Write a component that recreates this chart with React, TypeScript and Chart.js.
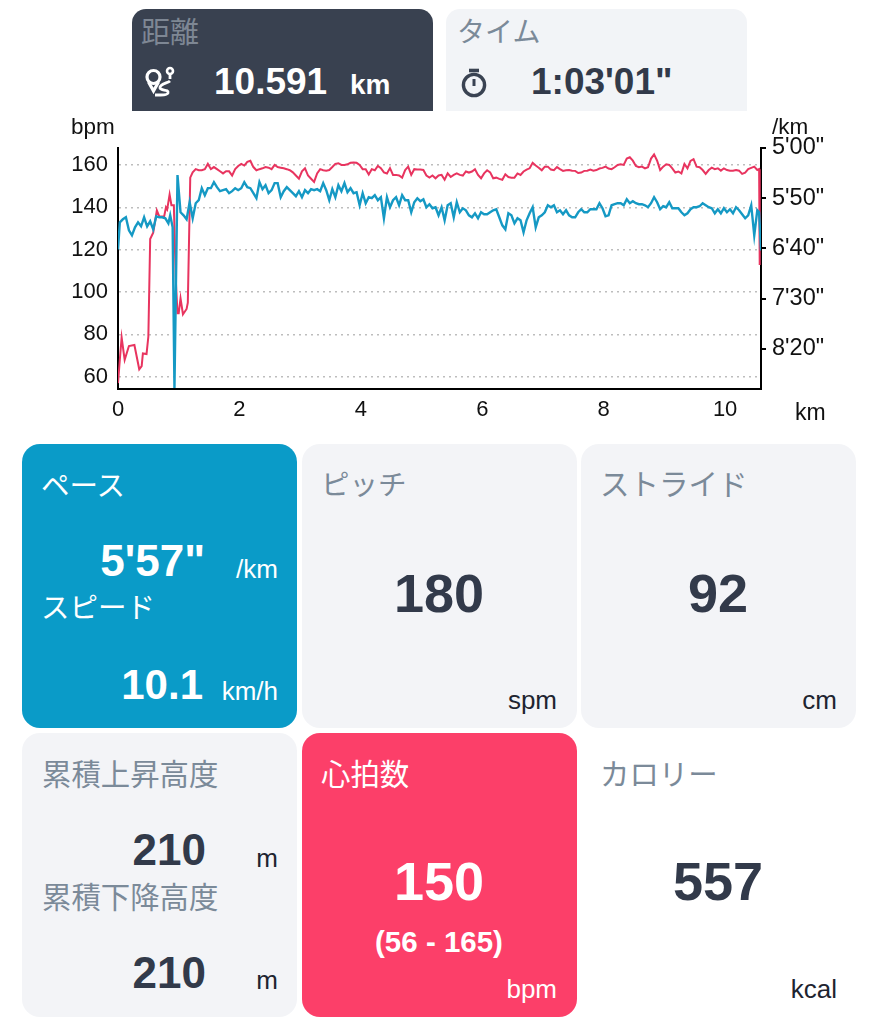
import React, { useEffect, useRef } from 'react';
import { Chart, registerables } from 'chart.js';

Chart.register(...registerables);

const BPM_TICKS = [60, 80, 100, 120, 140, 160];
const PACE_TICKS = [300, 350, 400, 450, 500];
const PACE_TICK_LABELS = ["5'00\"", "5'50\"", "6'40\"", "7'30\"", "8'20\""];
const KM_TICKS = [0, 2, 4, 6, 8, 10];

// heart rate, first part of the run (warm up, stop at 1km)
const HR_START_KM = [0, 0.03, 0.06, 0.11, 0.18, 0.27, 0.35, 0.39, 0.41, 0.47, 0.5, 0.53, 0.58, 0.64, 0.68, 0.76, 0.79, 0.81, 0.85, 0.88, 0.92, 0.95, 0.98, 1.0, 1.03, 1.07, 1.13, 1.15, 1.19, 1.23];
const HR_START = [57, 68, 78.5, 68, 74.5, 75, 63.5, 65, 71, 70.7, 79, 125, 128, 138.5, 135.7, 135.7, 140, 139, 146, 141, 141, 107, 90, 90, 97, 89.5, 92, 95, 154, 156.5];

// pace in seconds per km
const PACE_START_KM = [0, 0.03, 0.08, 0.13, 0.18, 0.23, 0.28, 0.33, 0.38, 0.43, 0.48, 0.53, 0.58, 0.63, 0.68, 0.73, 0.78, 0.83, 0.86, 0.9, 0.93, 0.98, 1.03, 1.08, 1.13, 1.18, 1.23];
const PACE_START = [401, 374, 371, 369, 382, 387, 379, 374, 378, 369, 378, 373, 381, 368, 369, 369, 370, 375, 367, 379, 539, 327, 364, 367, 371, 354, 370];

const RUN_KM = [
    1.28, 1.33, 1.38, 1.43, 1.48, 1.53, 1.58, 1.63, 1.68, 1.73, 1.78, 1.83, 1.88, 1.93, 1.98, 2.03, 2.08, 2.13, 2.18, 2.23,
    2.28, 2.33, 2.38, 2.43, 2.48, 2.53, 2.58, 2.63, 2.68, 2.73, 2.78, 2.83, 2.88, 2.93, 2.98, 3.03, 3.08, 3.13, 3.18, 3.23,
    3.28, 3.33, 3.38, 3.43, 3.48, 3.53, 3.58, 3.63, 3.68, 3.73, 3.78, 3.83, 3.88, 3.93, 3.98, 4.03, 4.08, 4.13, 4.18, 4.23,
    4.28, 4.33, 4.38, 4.43, 4.48,
    4.53, 4.58, 4.63, 4.68, 4.73, 4.78, 4.83, 4.88, 4.93, 4.98, 5.03, 5.08, 5.13, 5.18, 5.23, 5.28, 5.33, 5.38, 5.43, 5.48,
    5.53, 5.58, 5.63, 5.68, 5.73, 5.78, 5.83, 5.88, 5.93, 5.98, 6.03, 6.08, 6.13, 6.18, 6.23, 6.28, 6.33, 6.38, 6.43, 6.48,
    6.53, 6.58, 6.63, 6.68, 6.73, 6.78, 6.83, 6.88, 6.93, 6.98, 7.03, 7.08, 7.13, 7.18, 7.23, 7.28, 7.33, 7.38, 7.43, 7.48,
    7.53, 7.58,
    7.63, 7.68, 7.73, 7.78, 7.83, 7.88, 7.93, 7.98, 8.03, 8.08, 8.13, 8.18, 8.23, 8.28, 8.33, 8.38, 8.43, 8.48, 8.53, 8.58,
    8.63, 8.68, 8.73, 8.78, 8.83, 8.88, 8.93, 8.98, 9.03, 9.08, 9.13, 9.18, 9.23, 9.28, 9.33, 9.38, 9.43, 9.48, 9.53, 9.58,
    9.63, 9.68, 9.73, 9.78, 9.83, 9.88, 9.93, 9.98, 10.03, 10.08, 10.13, 10.18, 10.23, 10.28, 10.33, 10.38, 10.43, 10.48, 10.53,
];

const HR_RUN = [
    158, 157.5, 157.5, 158, 160.5, 158, 159, 158, 157, 156, 157, 157, 155, 158, 159.5, 160.5, 159.7, 161.5, 162, 159,
    157.5, 158, 158.4, 159, 158.7, 158, 160, 159, 158.7, 158.4, 158, 157.5, 156.5, 155, 153.5, 157, 158.4, 155, 153.5, 152,
    156, 158, 157.5, 157.3, 157.6, 159, 160.5, 160.8, 160, 160, 160.3, 161, 161.2, 161, 160, 158, 158, 155.5, 158, 157.5,
    159.5, 158.5, 156.5, 156, 158.5,
    155.3, 155.3, 155, 154, 157.6, 159.2, 155.3, 158, 157.8, 157.8, 157.6, 155, 154, 155, 153.7, 155, 155.3, 153, 156, 154.3,
    155.3, 156, 155.3, 155, 156.9, 156.4, 156.9, 158, 155.3, 153.7, 156, 157.5, 156.5, 153.7, 154, 153.4, 153, 155.6, 154.3, 154,
    154, 156, 155.3, 156.9, 157.8, 158.4, 161, 159.7, 158.7, 157.5, 159.2, 159.2, 157.8, 157.5, 159, 158, 157.2, 157.5, 157.6, 157.3,
    157.2, 156.2,
    156.4, 157.2, 157.3, 157.8, 157.3, 157.6, 158.3, 158.6, 159.2, 158.3, 158, 158.9, 160, 160.3, 160, 163, 163.6, 162, 159.5, 158.9,
    159.2, 158.4, 158.9, 163, 165, 162, 157.6, 159.2, 160.3, 160, 158.4, 156.4, 156.9, 156, 160.5, 158.4, 161.9, 162.7, 159.2, 158.9,
    157.6, 155.8, 157.6, 158.7, 158, 158.4, 157.3, 158.4, 157.6, 157.3, 157.3, 157.6, 157.3, 155.8, 156.4, 158, 158.6, 159.2, 157.6,
];

const PACE_RUN = [
    355, 352, 340, 347, 340, 340, 334, 339, 343, 342, 341, 345, 343, 340, 342, 340, 334, 339, 340, 345,
    350, 334, 341, 337, 345, 342, 335, 335, 349, 343, 339, 342, 345, 348, 343, 349, 342, 345, 341, 342,
    341, 343, 335, 342, 352, 341, 349, 337, 343, 335, 344, 340, 345, 344, 357, 345, 355, 349, 350, 347,
    352, 349, 370, 349, 359,
    352, 349, 357, 347, 352, 352, 364, 354, 350, 353, 351, 359, 356, 360, 359, 367, 359, 372, 357, 355,
    369, 354, 364, 360, 362, 367, 369, 365, 370, 364, 366, 366, 364, 362, 361, 369, 377, 381, 365, 367,
    375, 370, 372, 384, 372, 365, 359, 379, 369, 367, 364, 357, 359, 357, 364, 362, 366, 362, 367, 369,
    369, 364,
    361, 364, 364, 361, 361, 361, 355, 360, 368, 367, 357, 356, 355, 355, 357, 351, 355, 353, 355, 356,
    356, 357, 359, 355, 349, 354, 361, 358, 359, 354, 360, 360, 360, 364, 367, 365, 361, 359, 359, 358,
    355, 357, 359, 360, 365, 361, 365, 360, 364, 361, 365, 359, 362, 366, 370, 367, 357, 387, 362,
];

const HR_END_KM = [10.56, 10.57];
const HR_END = [158, 112.8];
const PACE_END_KM = [10.56, 10.591];
const PACE_END = [364, 402];

const HR_KM = [...HR_START_KM, ...RUN_KM, ...HR_END_KM];
const HR_VALUES = [...HR_START, ...HR_RUN, ...HR_END];
const PACE_KM = [...PACE_START_KM, ...RUN_KM, ...PACE_END_KM];
const PACE_VALUES = [...PACE_START, ...PACE_RUN, ...PACE_END];

const SANS = '"Liberation Sans", Arial, sans-serif';
const JP = '"Liberation Sans", "Noto Sans CJK JP", sans-serif';
const DARK = '#323a4a';
const MUTED = '#7b8a99';

type TextProps = {
    x: number;
    y: number;
    size: number;
    color?: string;
    bold?: boolean;
    align?: 'left' | 'right' | 'center';
    children: React.ReactNode;
};

const T = ({ x, y, size, color = DARK, bold = false, align = 'left', children }: TextProps) => {
    const style: React.CSSProperties = {
        position: 'absolute',
        top: y,
        fontSize: size,
        lineHeight: 1,
        color,
        fontFamily: JP,
        fontWeight: bold ? 700 : 400,
        whiteSpace: 'nowrap',
        transform: align === 'center' ? 'translate(-50%, -50%)' : 'translateY(-50%)',
    };
    if (align === 'right') style.right = 879 - x;
    else style.left = x;
    return <div style={style}>{children}</div>;
};

const Card = ({ x, y, w, h, color, radius = '18px' }: { x: number; y: number; w: number; h: number; color: string; radius?: string }) => (
    <div style={{ position: 'absolute', left: x, top: y, width: w, height: h, background: color, borderRadius: radius }} />
);

const RouteIcon = () => (
    <svg style={{ position: 'absolute', left: 144, top: 65 }} width="34" height="32" viewBox="0 0 34 32" fill="none" stroke="#fff" strokeWidth="3.2">
        <circle cx="9.5" cy="12" r="6.5" />
        <circle cx="26" cy="6" r="3" strokeWidth="2.6" />
        <path d="M4.5 17 L9.5 26 L14.5 17" />
        <path d="M26 10 L26 14 M26 16 C24 18 15 19 16 23 C17 26 25 24 24 28 C23.5 30 18 30 11 30" strokeWidth="2.8" />
    </svg>
);

const TimerIcon = () => (
    <svg style={{ position: 'absolute', left: 460, top: 68 }} width="28" height="30" viewBox="0 0 28 30" fill="none" stroke="#3a4352" strokeWidth="3.4">
        <circle cx="14" cy="17" r="10.6" />
        <path d="M9 2.5 L19 2.5" strokeWidth="3.6" />
        <path d="M14 11 L14 18" strokeWidth="3" />
    </svg>
);

export default function App() {
    const canvasRef = useRef<HTMLCanvasElement>(null);

    useEffect(() => {
        if (!canvasRef.current) return;
        const chart = new Chart(canvasRef.current, {
            type: 'line',
            data: {
                datasets: [
                    {
                        label: 'bpm',
                        data: HR_KM.map((km, i) => ({ x: km, y: HR_VALUES[i] })),
                        yAxisID: 'y',
                        borderColor: '#e8345f',
                        borderWidth: 2,
                        pointRadius: 0,
                        tension: 0,
                        order: 2,
                    },
                    {
                        label: '/km',
                        data: PACE_KM.map((km, i) => ({ x: km, y: PACE_VALUES[i] })),
                        yAxisID: 'y1',
                        borderColor: '#1599c4',
                        borderWidth: 2.4,
                        pointRadius: 0,
                        tension: 0,
                        order: 1,
                    },
                ],
            },
            options: {
                responsive: false,
                animation: false,
                layout: { padding: { top: 38, left: 0, right: 0, bottom: 0 } },
                plugins: { legend: { display: false }, tooltip: { enabled: false } },
                scales: {
                    x: {
                        type: 'linear',
                        min: 0,
                        max: 10.591,
                        afterBuildTicks: (s: any) => { s.ticks = KM_TICKS.map(v => ({ value: v })); },
                        afterFit: (s: any) => { s.height = 41; },
                        grid: { display: false },
                        border: { color: '#000', width: 2 },
                        ticks: { color: '#111', font: { size: 22, family: SANS }, padding: 0, maxRotation: 0, autoSkip: false },
                    },
                    y: {
                        position: 'left',
                        min: 54.2,
                        max: 168,
                        afterBuildTicks: (s: any) => { s.ticks = BPM_TICKS.map(v => ({ value: v })); },
                        afterFit: (s: any) => { s.width = 118; },
                        grid: { color: '#bdbdbd', lineWidth: 1.5, drawTicks: false },
                        border: { color: '#000', width: 2, dash: [2, 4] },
                        ticks: { color: '#111', font: { size: 22, family: SANS }, padding: 10, autoSkip: false },
                    },
                    y1: {
                        position: 'right',
                        reverse: true,
                        min: 300,
                        max: 540,
                        afterBuildTicks: (s: any) => { s.ticks = PACE_TICKS.map(v => ({ value: v })); },
                        afterFit: (s: any) => { s.width = 118; },
                        grid: { display: true, drawOnChartArea: false, color: '#000', lineWidth: 2, tickLength: 5 },
                        border: { color: '#000', width: 2 },
                        ticks: {
                            color: '#111',
                            font: { size: 23.5, family: SANS },
                            padding: 6,
                            autoSkip: false,
                            callback: (v: any) => PACE_TICK_LABELS[PACE_TICKS.indexOf(Number(v))],
                        },
                    },
                },
            },
        });
        return () => chart.destroy();
    }, []);

    return (
        <div style={{ position: 'absolute', left: 0, top: 0, width: 879, height: 1024, background: '#fff', overflow: 'hidden' }}>
            <Card x={132} y={9} w={301} h={102} color="#394150" radius="14px 14px 0 0" />
            <Card x={446} y={9} w={301} h={102} color="#f2f4f7" radius="14px 14px 0 0" />
            <T x={141} y={33} size={29} color="#7e8794">距離</T>
            <RouteIcon />
            <T x={214} y={81} size={37} color="#fff" bold>10.591</T>
            <T x={350} y={85} size={28} color="#fff" bold>km</T>
            <T x={457} y={33} size={28} color={MUTED}>タイム</T>
            <TimerIcon />
            <T x={531} y={81} size={37} bold>1:03'01"</T>

            <canvas ref={canvasRef} width={879} height={320} style={{ position: 'absolute', left: 0, top: 110, width: 879, height: 320 }} />
            <T x={71} y={127} size={22.5} color="#111">bpm</T>
            <T x={772} y={127} size={22.5} color="#111">/km</T>
            <T x={795} y={412} size={23} color="#111">km</T>

            <Card x={22} y={444} w={275} h={284} color="#0a9bc8" />
            <T x={41} y={486} size={28.5} color="#fff">ペース</T>
            <T x={205} y={561} size={44} color="#fff" bold align="right">5'57"</T>
            <T x={278} y={569} size={26} color="#fff" align="right">/km</T>
            <T x={41} y={608} size={28.5} color="#fff">スピード</T>
            <T x={203} y={685} size={42} color="#fff" bold align="right">10.1</T>
            <T x={278} y={691} size={26} color="#fff" align="right">km/h</T>

            <Card x={302} y={444} w={275} h={284} color="#f3f4f7" />
            <T x={321} y={485} size={28.5} color={MUTED}>ピッチ</T>
            <T x={439} y={592.5} size={54} bold align="center">180</T>
            <T x={557} y={700} size={26} color="#1e2430" align="right">spm</T>

            <Card x={581} y={444} w={275} h={284} color="#f3f4f7" />
            <T x={600} y={485} size={29.5} color={MUTED}>ストライド</T>
            <T x={718} y={592.5} size={54} bold align="center">92</T>
            <T x={837} y={700} size={26} color="#1e2430" align="right">cm</T>

            <Card x={22} y={733} w={275} h={284} color="#f3f4f7" />
            <T x={42} y={775} size={29.4} color={MUTED}>累積上昇高度</T>
            <T x={206} y={850} size={44} bold align="right">210</T>
            <T x={278} y={858} size={26} color="#1e2430" align="right">m</T>
            <T x={42} y={898} size={29.4} color={MUTED}>累積下降高度</T>
            <T x={206} y={973} size={44} bold align="right">210</T>
            <T x={278} y={980} size={26} color="#1e2430" align="right">m</T>

            <Card x={302} y={733} w={275} h={284} color="#fc3f69" />
            <T x={321} y={775} size={29.4} color="#fff">心拍数</T>
            <T x={439} y={881} size={54} color="#fff" bold align="center">150</T>
            <T x={439} y={942} size={29.5} color="#fff" bold align="center">(56 - 165)</T>
            <T x={557} y={989} size={26} color="#fff" align="right">bpm</T>

            <T x={600} y={775} size={29.4} color={MUTED}>カロリー</T>
            <T x={718} y={881} size={54} bold align="center">557</T>
            <T x={837} y={989} size={26} color="#1e2430" align="right">kcal</T>
        </div>
    );
}
